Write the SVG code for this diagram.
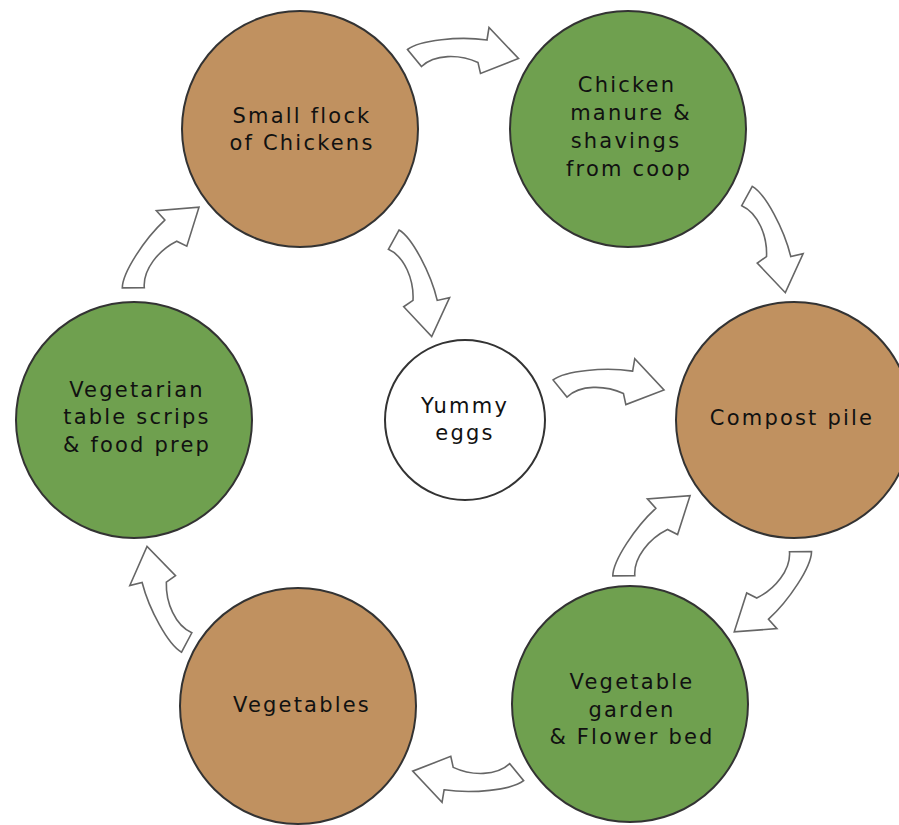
<svg xmlns="http://www.w3.org/2000/svg" xmlns:xlink="http://www.w3.org/1999/xlink" width="899" height="825" viewBox="0 0 899 825">
<style>
.brown{fill:#C09160;stroke:#333;stroke-width:2}
.green{fill:#6FA04F;stroke:#333;stroke-width:2}
.white{fill:#fff;stroke:#333;stroke-width:2}
text{font-family:"DejaVu Sans","Liberation Sans",sans-serif;font-size:21px;fill:#111;text-anchor:middle;letter-spacing:2.2px}
.arrow{fill:#fff;stroke:#666;stroke-width:1.6;stroke-linejoin:miter}
</style>
<defs>
<path id="arr" d="M -7,-8.5 C 5,-18 45,-22 72.5,-18 L 74.5,-30.5 L 104,0.5 L 66,15.5 L 63.5,4.5 C 45,-4 20,-4 7,8.5 Z"/>
</defs>
<rect width="899" height="825" fill="#fff"/>
<g id="connectors" class="arrow">
<use xlink:href="#arr" href="#arr" transform="translate(414.5,58)"/>
<use xlink:href="#arr" href="#arr" transform="translate(747,196) rotate(68.1)"/>
<use xlink:href="#arr" href="#arr" transform="translate(393.7,239.7) rotate(68.3)"/>
<use xlink:href="#arr" href="#arr" transform="translate(560,388.5) rotate(0.5)"/>
<use xlink:href="#arr" href="#arr" transform="translate(800.5,551.7) rotate(129.3)"/>
<use xlink:href="#arr" href="#arr" transform="translate(623.8,575.8) rotate(-50.7)"/>
<use xlink:href="#arr" href="#arr" transform="translate(516.7,772.2) rotate(180.3)"/>
<use xlink:href="#arr" href="#arr" transform="translate(186.7,642.5) rotate(-112.7)"/>
<use xlink:href="#arr" href="#arr" transform="translate(133.3,287.8) rotate(-51.1)"/>
</g>
<g id="flock">
<circle class="brown" cx="300" cy="129" r="118"/>
<text x="302" y="123">Small flock</text>
<text x="302" y="150">of Chickens</text>
</g>
<g id="manure">
<circle class="green" cx="628" cy="129" r="118"/>
<text x="627" y="92">Chicken</text>
<text x="631" y="120">manure &amp;</text>
<text x="626" y="148">shavings</text>
<text x="629" y="176">from coop</text>
</g>
<g id="compost">
<circle class="brown" cx="794" cy="420" r="118"/>
<text x="792" y="425">Compost pile</text>
</g>
<g id="garden">
<circle class="green" cx="630" cy="704" r="118"/>
<text x="632" y="689">Vegetable</text>
<text x="632" y="717">garden</text>
<text x="632" y="744">&amp; Flower bed</text>
</g>
<g id="vegetables">
<circle class="brown" cx="298" cy="706" r="118"/>
<text x="302" y="712">Vegetables</text>
</g>
<g id="vegetarian">
<circle class="green" cx="134" cy="420" r="118"/>
<text x="137" y="397">Vegetarian</text>
<text x="137" y="424">table scrips</text>
<text x="137" y="452">&amp; food prep</text>
</g>
<g id="eggs">
<circle class="white" cx="465" cy="420" r="80"/>
<text x="465" y="413">Yummy</text>
<text x="465" y="440">eggs</text>
</g>
</svg>
